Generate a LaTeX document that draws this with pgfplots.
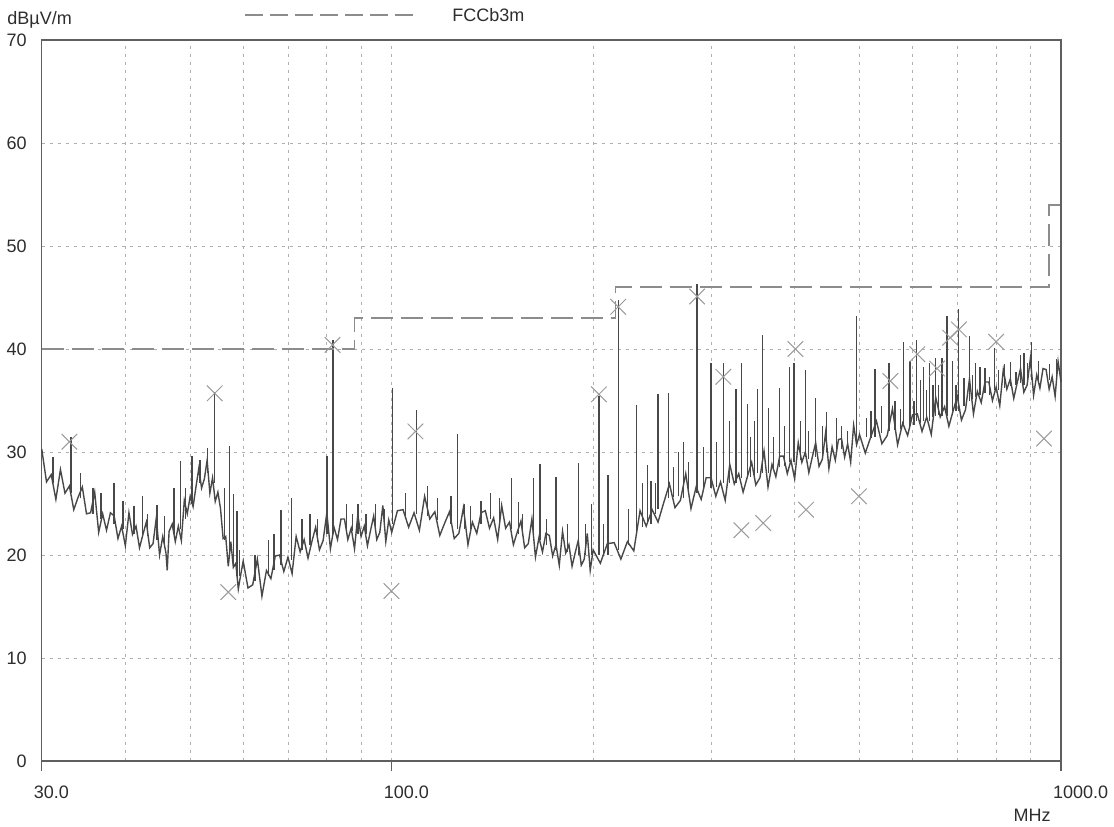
\documentclass[border=0pt]{standalone}
\usepackage{fontspec}
\setmainfont{Liberation Sans}
\usepackage{pgfplots}
\pgfplotsset{compat=1.18}

\definecolor{trace}{RGB}{72,72,72}
\definecolor{limitc}{RGB}{140,140,140}
\definecolor{markc}{RGB}{155,155,155}
\definecolor{gridc}{RGB}{175,175,175}
\definecolor{framec}{RGB}{95,95,95}
\definecolor{textc}{RGB}{45,45,45}

\begin{document}
\begin{tikzpicture}
\begin{axis}[
  scale only axis,
  width=509.65pt, height=360.5pt,
  xmode=log, log basis x=10,
  xmin=30, xmax=1000, ymin=0, ymax=70,
  xtick={30,100,1000}, xticklabels={30.0,100.0,1000.0},
  minor xtick={40,50,60,70,80,90,200,300,400,500,600,700,800,900},
  ytick={0,10,...,70},
  xmajorgrids, xminorgrids, ymajorgrids,
  major grid style={gridc, dash pattern=on 1.5pt off 2.5pt, line width=0.4pt},
  minor grid style={gridc, dash pattern=on 1.5pt off 2.5pt, line width=0.4pt},
  axis line style={draw=framec, line width=0.7pt},
  tick align=outside, xtick pos=bottom, ytick pos=left,
  major tick length=5pt, minor tick length=0pt,
  xtick style={draw=framec, line width=0.7pt},
  ytick style={draw=none},
  tick label style={font=\fontsize{9}{10}\selectfont, text=textc},
  /pgf/number format/assume math mode=true,
  xticklabel style={anchor=north west, xshift=-7.5pt, yshift=-4pt},
  yticklabel style={anchor=east, xshift=1pt},
  unbounded coords=jump,
  clip=false,
]
% measured trace, noise floor
\addplot[trace, line width=0.7pt] coordinates {
(30.0,30.3)(30.5,27.1)(31.0,27.8)(31.5,25.4)(32.0,28.3)(32.5,26.0)(33.0,26.7)(33.5,24.4)
(34.0,25.6)(34.5,26.6)(35.0,24.0)(35.5,24.1)(36.0,26.1)(36.5,22.2)(37.0,24.0)(37.5,22.4)
(38.0,24.1)(38.5,23.8)(39.0,21.6)(39.5,22.8)(40.0,20.9)(40.5,24.1)(41.0,22.0)(41.5,22.8)
(42.0,20.7)(42.5,22.0)(43.0,23.2)(43.5,20.7)(44.0,21.1)(44.5,23.6)(45.0,20.0)(45.5,21.8)
(46.0,20.2)(46.2,18.5)(46.5,22.3)(47.0,23.0)(47.5,21.3)(48.0,22.8)(48.5,21.4)(49.0,25.3)
(49.5,24.0)(50.0,25.7)(50.5,24.7)(51.0,26.6)(51.5,28.4)(52.0,26.5)(52.5,27.4)(53.0,29.2)
(53.5,26.0)(54.0,27.5)(54.5,25.2)(55.0,26.1)(55.5,24.5)(56.0,21.6)(56.5,21.8)(57.0,18.9)
(57.5,21.3)(58.0,18.8)(58.5,19.2)(59.0,16.7)(59.5,18.1)(60,19.4)(61,16.8)(62,17.1)(63,19.6)
(64,16.0)(65,18.5)(66,17.7)(67,19.9)(68,20.0)(69,18.4)(70,19.8)(71,18.2)(72,21.8)(73,20.3)
(74,21.5)(75,19.7)(76,21.3)(77,22.7)(78,20.5)(79,21.4)(80,24.1)(81,20.6)(82,22.7)(83,21.5)
(84,23.5)(85,23.5)(86,21.5)(87,22.6)(88,20.6)(89,23.9)(90,21.8)(91,22.8)(92,20.9)(93,22.4)
(94,23.8)(95,21.5)(96,22.2)(97,24.8)(98,21.3)(99,23.4)(100,22.2)(102,24.3)(104,24.4)
(106,22.7)(108,24.1)(110,22.4)(112,25.7)(114,23.5)(116,24.2)(118,21.9)(120,23.1)(122,24.2)
(124,21.6)(126,22.1)(128,24.6)(130,21.0)(132,23.2)(134,22.1)(136,24.1)(138,24.3)(140,22.6)
(142,23.6)(144,21.5)(146,24.8)(148,22.6)(150,23.2)(152,21.0)(154,22.2)(156,23.3)(158,20.7)
(160,21.1)(162,23.5)(164,19.8)(166,21.7)(168,20.3)(170,22.1)(172,21.9)(174,19.9)(176,21.0)
(178,19.0)(180,22.3)(182,20.2)(184,21.0)(186,18.9)(188,20.2)(190,21.4)(192,19.0)(194,19.6)
(196,22.1)(198,18.5)(200,20.5)(205,19.2)(210,21.1)(215,21.2)(220,19.6)(225,21.3)(230,20.4)
(235,24.3)(240,22.8)(245,24.4)(250,23.2)(255,25.1)(260,26.9)(265,24.6)(270,25.3)(275,27.9)
(280,24.5)(285,26.6)(290,25.4)(295,27.5)(300,27.5)(305,25.7)(310,27.1)(315,25.3)(320,28.8)
(325,26.9)(330,27.9)(335,26.1)(340,27.6)(345,29.0)(350,26.8)(355,27.5)(360,30.1)(365,26.6)
(370,28.8)(375,27.6)(380,29.6)(385,29.6)(390,27.9)(395,29.2)(400,27.4)(405,30.9)(410,29.0)
(415,30.0)(420,28.0)(425,29.5)(430,30.9)(435,28.6)(440,29.3)(445,31.9)(450,28.4)(455,30.5)
(460,29.2)(465,31.2)(470,31.3)(475,29.5)(480,30.8)(485,29.0)(490,32.6)(495,30.7)(500,31.7)
(510,29.9)(520,31.5)(530,33.0)(540,30.8)(550,31.6)(560,34.2)(570,30.7)(580,32.8)(590,31.6)
(600,33.6)(610,33.7)(620,32.0)(630,33.4)(640,31.7)(650,35.3)(660,33.4)(670,34.4)(680,32.5)
(690,34.0)(700,35.4)(710,33.1)(720,34.1)(730,37.1)(740,33.7)(750,35.9)(760,34.8)(770,36.8)
(780,36.8)(790,35.0)(800,36.3)(810,34.5)(820,38.0)(830,36.1)(840,37.1)(850,35.2)(860,36.7)
(870,38.1)(880,35.8)(890,36.5)(900,39.1)(910,35.5)(920,37.5)(930,36.2)(940,38.1)(950,38.0)
(960,36.1)(970,37.3)(980,35.4)(990,38.8)(1000,36.8)
};
% measured trace, small noise spikes
\addplot[trace, line width=0.6pt] coordinates {
(31.2,27)(31.2,29.5)(31.2,nan) (35.8,24)(35.8,26.5)(35.8,nan) (36.8,23.5)(36.8,26)(36.8,nan)
(39.7,22.5)(39.7,25.2)(39.7,nan) (41.2,22)(41.2,24.8)(41.2,nan) (43.2,21.8)(43.2,24)(43.2,nan)
(45.8,21.2)(45.8,23.8)(45.8,nan) (47.3,22)(47.3,26.5)(47.3,nan) (49.2,23.5)(49.2,26.5)(49.2,nan)
(51.7,27)(51.7,29.2)(51.7,nan) (56.3,21.5)(56.3,26.5)(56.3,nan) (59.3,18)(59.3,20.5)(59.3,nan)
(62.5,17.5)(62.5,20)(62.5,nan) (65.5,18)(65.5,21.5)(65.5,nan) (66.7,18.5)(66.7,22)(66.7,nan)
(75.5,21)(75.5,24)(75.5,nan) (77.5,21.3)(77.5,23.5)(77.5,nan) (85.5,22.5)(85.5,25)(85.5,nan)
(87.5,22.3)(87.5,24)(87.5,nan) (94.5,22.4)(94.5,25)(94.5,nan) (97.5,22.7)(97.5,24.5)(97.5,nan)
(105,23.5)(105,26)(105,nan) (113,23.8)(113,26.7)(113,nan) (117,23.4)(117,25.5)(117,nan)
(128.5,22.5)(128.5,25)(128.5,nan) (131,22.5)(131,24.8)(131,nan) (140.5,23.5)(140.5,26)(140.5,nan)
(145,23)(145,25.5)(145,nan) (157,21.8)(157,24)(157,nan) (170.5,21)(170.5,23.5)(170.5,nan)
(183,20.3)(183,23)(183,nan) (195,20)(195,23)(195,nan) (199,20)(199,25)(199,nan)
(207,20)(207,23)(207,nan) (226,21)(226,24.5)(226,nan) (237,22.7)(237,27)(237,nan)
(241,23)(241,28.7)(241,nan) (248,24)(248,27)(248,nan) (264,25.6)(264,28.5)(264,nan)
(268,25.7)(268,30)(268,nan) (278,26)(278,29)(278,nan) (292,26.2)(292,30.5)(292,nan)
(306,26.6)(306,31)(306,nan) (320,27)(320,33)(320,nan) (344,27.6)(344,31.5)(344,nan)
(348,27.7)(348,33)(348,nan) (372,28.3)(372,31.5)(372,nan) (386,28.6)(386,32.5)(386,nan)
(408,29.2)(408,33)(408,nan) (420,29.3)(420,32)(420,nan) (440,29.7)(440,32.5)(440,nan)
(470,30.3)(470,32.5)(470,nan) (480,30.5)(480,32)(480,nan) (520,31.4)(520,34)(520,nan)
(540,31.8)(540,34.5)(540,nan) (565,32.1)(565,35)(565,nan) (575,32.2)(575,34.2)(575,nan)
(603,32.6)(603,35)(603,nan) (617,32.8)(617,37)(617,nan) (630,33.1)(630,36)(630,nan)
(644,33.4)(644,36.5)(644,nan) (657,33.6)(657,36.5)(657,nan) (697,34)(697,36.5)(697,nan)
(737,35.1)(737,37.5)(737,nan) (746,35.3)(746,38.6)(746,nan) (770,35.7)(770,38.2)(770,nan)
(823,36.2)(823,38.5)(823,nan) (840,36.4)(840,38.7)(840,nan) (870,36.7)(870,39.4)(870,nan)
(890,36.9)(890,38.6)(890,nan) (925,37)(925,38.8)(925,nan) (960,37)(960,38.5)(960,nan)
(985,37)(985,39)(985,nan)
};
% measured trace, narrowband spikes
\addplot[trace, line width=0.7pt] coordinates {
(33.2,26)(33.2,31.5)(33.2,nan) (34.3,25.5)(34.3,28.0)(34.3,nan) (38.5,23)(38.5,27.0)(38.5,nan)
(42.4,22)(42.4,25.7)(42.4,nan) (44.6,21.5)(44.6,24.9)(44.6,nan) (48.4,22.5)(48.4,29.1)(48.4,nan)
(50.3,25)(50.3,29.6)(50.3,nan) (53.1,28)(53.1,30.4)(53.1,nan) (54.4,27)(54.4,35.8)(54.4,nan)
(57.2,20)(57.2,30.6)(57.2,nan) (58.0,19)(58.0,25.9)(58.0,nan) (58.7,18)(58.7,24.3)(58.7,nan)
(68.3,19)(68.3,24.4)(68.3,nan) (70.8,19.5)(70.8,25.5)(70.8,nan) (73.5,20.5)(73.5,23.5)(73.5,nan)
(80.0,22)(80.0,29.6)(80.0,nan) (81.7,22)(81.7,40.9)(81.7,nan) (89.0,22)(89.0,25.0)(89.0,nan)
(91.6,22)(91.6,24.0)(91.6,nan) (100.2,23)(100.2,36.2)(100.2,nan) (109,24)(109,34.1)(109,nan)
(122.6,23)(122.6,25.7)(122.6,nan) (125.3,22.5)(125.3,31.7)(125.3,nan) (136,23)(136,25.2)(136,nan)
(151,22.5)(151,27.5)(151,nan) (154.6,22)(154.6,25.1)(154.6,nan) (163,21.5)(163,27.5)(163,nan)
(166.5,21.5)(166.5,28.8)(166.5,nan) (176,20.5)(176,27.6)(176,nan) (190,20)(190,28.9)(190,nan)
(204,20)(204,35.4)(204,nan) (210.6,20)(210.6,27.8)(210.6,nan) (218,20.5)(218,44.8)(218,nan)
(232,22)(232,34.6)(232,nan) (244,23)(244,27.2)(244,nan) (250,24.5)(250,35.6)(250,nan)
(259,25.5)(259,35.7)(259,nan) (273,25.5)(273,31.0)(273,nan) (286,26)(286,46.3)(286,nan)
(300,26.5)(300,38.6)(300,nan) (313,27)(313,38.6)(313,nan) (327,27)(327,36.1)(327,nan)
(333,27.5)(333,38.6)(333,nan) (340,27.5)(340,34.7)(340,nan) (352,28)(352,36.1)(352,nan)
(358,28)(358,41.4)(358,nan) (366,28)(366,34.3)(366,nan) (380,28.5)(380,36.2)(380,nan)
(393,29)(393,38.3)(393,nan) (399,29)(399,38.6)(399,nan) (415,29.5)(415,38.0)(415,nan)
(430,29.5)(430,35.2)(430,nan) (446,30)(446,33.9)(446,nan) (462,30)(462,33.3)(462,nan)
(495,31)(495,43.2)(495,nan) (512,31.5)(512,33.3)(512,nan) (527,31.5)(527,38.1)(527,nan)
(553,32)(553,38.6)(553,nan) (582,32.5)(582,40.7)(582,nan) (595,32.5)(595,38.8)(595,nan)
(608,33)(608,40.9)(608,nan) (623,33)(623,38.3)(623,nan) (636,33)(636,38.6)(636,nan)
(649,33.5)(649,39.1)(649,nan) (664,33.5)(664,39.1)(664,nan) (676,33.5)(676,43.2)(676,nan)
(689,34)(689,38.8)(689,nan) (703,34)(703,43.9)(703,nan) (716,34.5)(716,37.2)(716,nan)
(730,35)(730,41.3)(730,nan) (757,35.5)(757,38.3)(757,nan) (782,35.5)(782,37.3)(782,nan)
(795,36)(795,40.1)(795,nan) (807,36)(807,38.0)(807,nan) (856,36.5)(856,37.8)(856,nan)
(881,36.5)(881,39.6)(881,nan) (904,37)(904,40.7)(904,nan)
};
% FCC class B 3 m limit
\addplot[limitc, line width=0.8pt, dash pattern=on 11pt off 4pt] coordinates {
(30,40)(88,40)(88,43)(216,43)(216,46)(960,46)(960,54)(1000,54)
};
% final measurement points
\addplot[only marks, mark=x, mark size=5.5pt, markc, mark options={line width=0.5pt}] coordinates {
(33.0,31.0)(54.4,35.7)(57.0,16.4)(81.6,40.4)(99.9,16.5)(108.5,32.0)(204,35.6)(218,44.1)
(286,45.1)(313,37.3)(333,22.4)(359,23.1)(401,40.0)(416,24.4)(499,25.7)(556,36.9)
(610,39.5)(653,38.1)(683,41.1)(704,41.9)(800,40.7)(943,31.3)
};
\end{axis}
% labels and legend
\node[anchor=west, inner sep=0pt, text=textc, font=\fontsize{9}{10}\selectfont]
  at ([xshift=-17.35pt, yshift=10pt]current axis.north west) {dBµV/m};
\node[inner sep=0pt, text=textc, font=\fontsize{9}{10}\selectfont]
  at ([xshift=-14.5pt, yshift=-27pt]current axis.south east) {MHz};
\draw[limitc, line width=0.8pt, dash pattern=on 9pt off 3.5pt]
  ([xshift=101.65pt, yshift=12.5pt]current axis.north west) -- ([xshift=186.65pt, yshift=12.5pt]current axis.north west);
\node[anchor=west, inner sep=0pt, text=textc, font=\fontsize{9}{10}\selectfont]
  at ([xshift=205.15pt, yshift=12.5pt]current axis.north west) {FCCb3m};
\pgfresetboundingbox
\path ([xshift=-20.85pt, yshift=-32.5pt]current axis.south west) rectangle ([xshift=26.5pt, yshift=20pt]current axis.north east);
\end{tikzpicture}
\end{document}
